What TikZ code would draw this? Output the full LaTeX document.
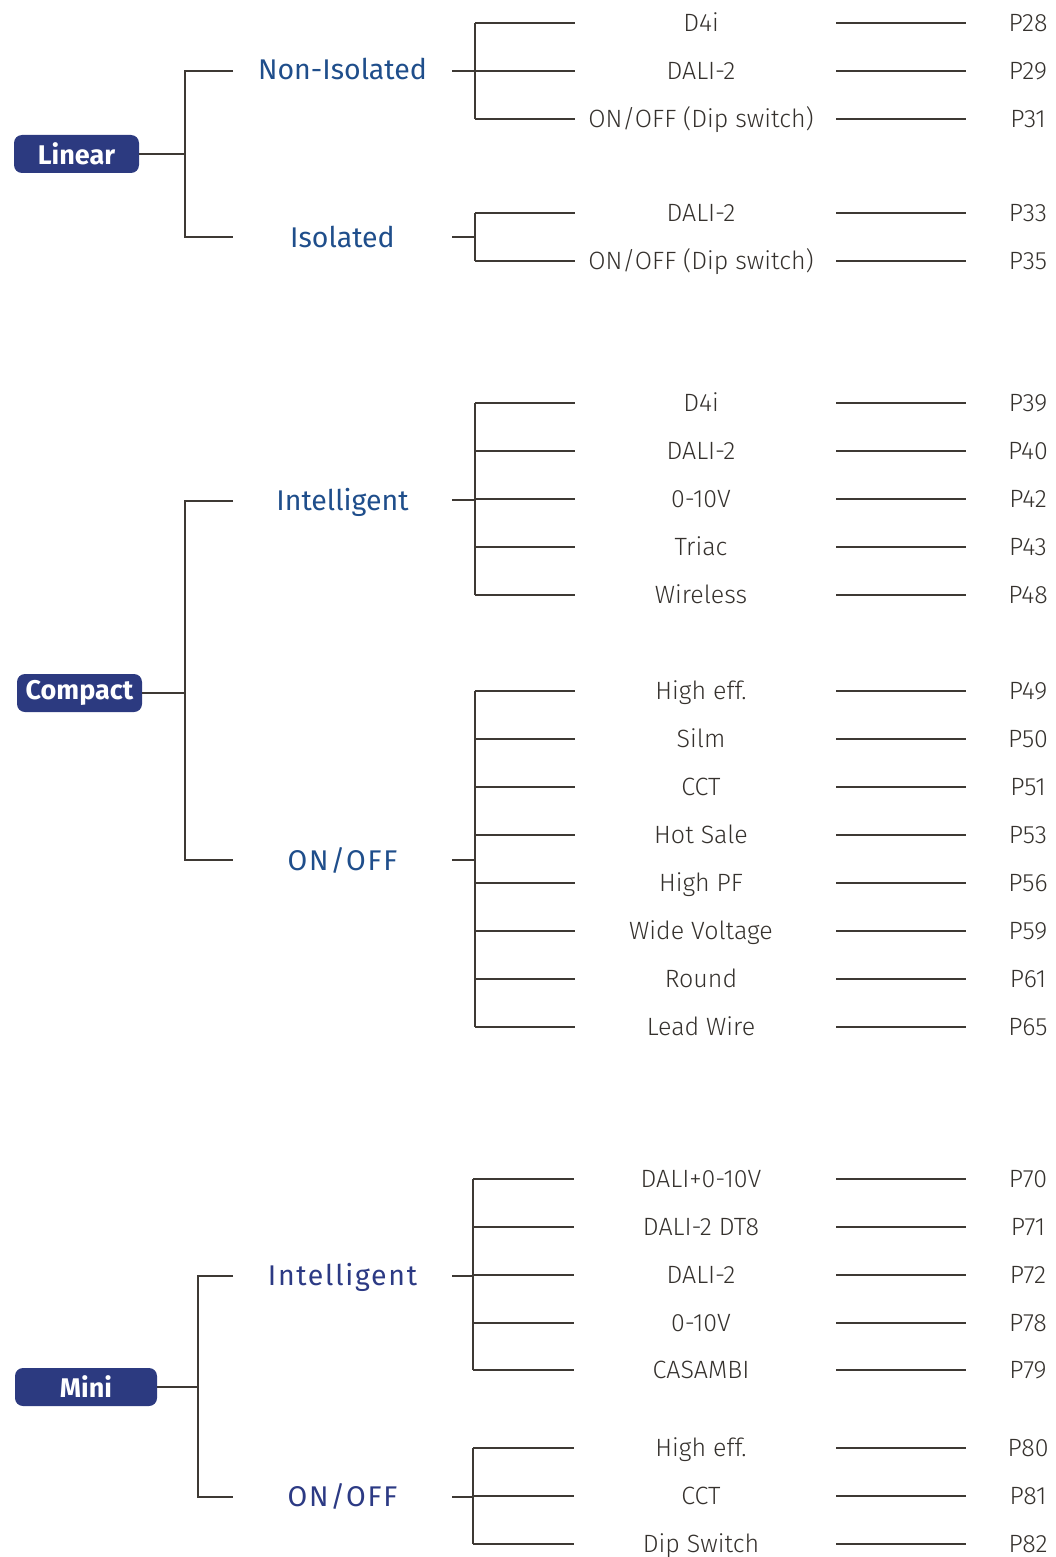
\documentclass[tikz,border=0pt]{standalone}
\usepackage{fontspec}
\setmainfont{Fira Sans}
\newfontfamily\lightfam{Fira Sans}[UprightFont={* Light}]
\newfontfamily\regfam{Fira Sans}
\newfontfamily\boldfam{Fira Sans}[UprightFont={* Bold}]
\definecolor{navy}{HTML}{2C3A80}
\definecolor{catblue}{HTML}{1F4E8B}
\definecolor{catindigo}{HTML}{2C3A84}
\definecolor{lineC}{HTML}{3E3934}
\definecolor{itemC}{HTML}{35312D}
\newcommand\branchrows[4]{%
  \foreach \yy/\lab/\pp [count=\i] in {#4} {
    \node[itm] (#1t\i) at (701,\yy+8.8) {\lab};
    \node[itm] (#1p\i) at (1028,\yy+8.8) {\pp};
    \coordinate (#1l\i) at (#2,\yy);
    \coordinate (#1r\i) at (#3,\yy);
    \coordinate (#1s\i) at (836,\yy);
    \coordinate (#1e\i) at (966,\yy);
    \draw[ln] (#1l\i) -- (#1r\i);
    \draw[ln] (#1s\i) -- (#1e\i);
  }%
}
\begin{document}
\begin{tikzpicture}[x=1pt,y=-1pt,
  ln/.style={draw=lineC, line width=1.4pt},
  badge/.style={fill=navy, rounded corners=8pt, text=white, font=\boldfam\fontsize{27}{31}\selectfont, inner sep=0pt, minimum height=38pt},
  cat/.style={font=\regfam\fontsize{28.5}{32}\selectfont, inner sep=0pt, text=catblue, anchor=base},
  itm/.style={font=\lightfam\fontsize{25}{29}\selectfont, text=itemC, inner sep=0pt, anchor=base}]
\useasboundingbox (0,0) rectangle (1055,1557);

% ---------- Linear ----------
\node[badge, minimum width=125pt] (linear) at (76.5,154) {Linear};
\node[cat] (noniso) at (342.5,70+10) {Non-Isolated};
\node[cat] (iso) at (342.5,237+10) {Isolated};
\coordinate (linJ) at (185,154);
\coordinate (linT) at (233,71);
\coordinate (linB) at (233,237);
\draw[ln] (linear.east) -- (linJ);
\draw[ln] (linT) -| (linJ) |- (linB);

\branchrows{na}{475}{575}{23/D4i/P28, 71/DALI-2/P29, 119/{ON/OFF (Dip switch)}/P31}
\coordinate (naS) at (452,71);
\draw[ln] (naS) -- (nal2);
\draw[ln] (nal1) -- (nal3);

\branchrows{ib}{475}{575}{213/DALI-2/P33, 261/{ON/OFF (Dip switch)}/P35}
\coordinate (ibS) at (452,237);
\coordinate (ibJ) at (475,237);
\draw[ln] (ibS) -- (ibJ);
\draw[ln] (ibl1) -- (ibl2);

% ---------- Compact ----------
\node[badge, minimum width=125pt] (compact) at (79.5,693) {Compact};
\node[cat] (cint) at (342.5,500+10) {Intelligent};
\node[cat] (conoff) at (342.5,860+10) {\addfontfeature{LetterSpace=6}ON/OFF};
\coordinate (cJ) at (185,693);
\coordinate (cT) at (233,501);
\coordinate (cB) at (233,860);
\draw[ln] (compact.east) -- (cJ);
\draw[ln] (cT) -| (cJ) |- (cB);

\branchrows{ci}{475}{575}{403/D4i/P39, 451/DALI-2/P40, 499/0-10V/P42, 547/Triac/P43, 595/Wireless/P48}
\coordinate (ciS) at (452,500);
\coordinate (ciJ) at (475,500);
\draw[ln] (ciS) -- (ciJ);
\draw[ln] (cil1) -- (cil5);

\branchrows{co}{475}{575}{691/High eff./P49, 739/Silm/P50, 787/CCT/P51, 835/Hot Sale/P53, 883/High PF/P56, 931/Wide Voltage/P59, 979/Round/P61, 1027/Lead Wire/P65}
\coordinate (coS) at (452,860);
\coordinate (coJ) at (475,860);
\draw[ln] (coS) -- (coJ);
\draw[ln] (col1) -- (col8);

% ---------- Mini ----------
\node[badge, minimum width=142pt] (mini) at (86,1387) {Mini};
\node[cat, text=catindigo] (mint) at (342.5,1275+10) {\addfontfeature{LetterSpace=6}Intelligent};
\node[cat, text=catindigo] (monoff) at (342.5,1496+10) {\addfontfeature{LetterSpace=6}ON/OFF};
\coordinate (mJ) at (198,1387);
\coordinate (mT) at (233,1276);
\coordinate (mB) at (233,1497);
\draw[ln] (mini.east) -- (mJ);
\draw[ln] (mT) -| (mJ) |- (mB);

\branchrows{mi}{473}{574}{1179/DALI+0-10V/P70, 1227/DALI-2 DT8/P71, 1275/DALI-2/P72, 1323/0-10V/P78, 1370/CASAMBI/P79}
\coordinate (miS) at (452,1276);
\coordinate (miJ) at (473,1276);
\draw[ln] (miS) -- (miJ);
\draw[ln] (mil1) -- (mil5);

\branchrows{mo}{473}{574}{1448/High eff./P80, 1496/CCT/P81, 1544/Dip Switch/P82}
\coordinate (moS) at (452,1497);
\coordinate (moJ) at (473,1497);
\draw[ln] (moS) -- (moJ);
\draw[ln] (mol1) -- (mol3);
\end{tikzpicture}
\end{document}
